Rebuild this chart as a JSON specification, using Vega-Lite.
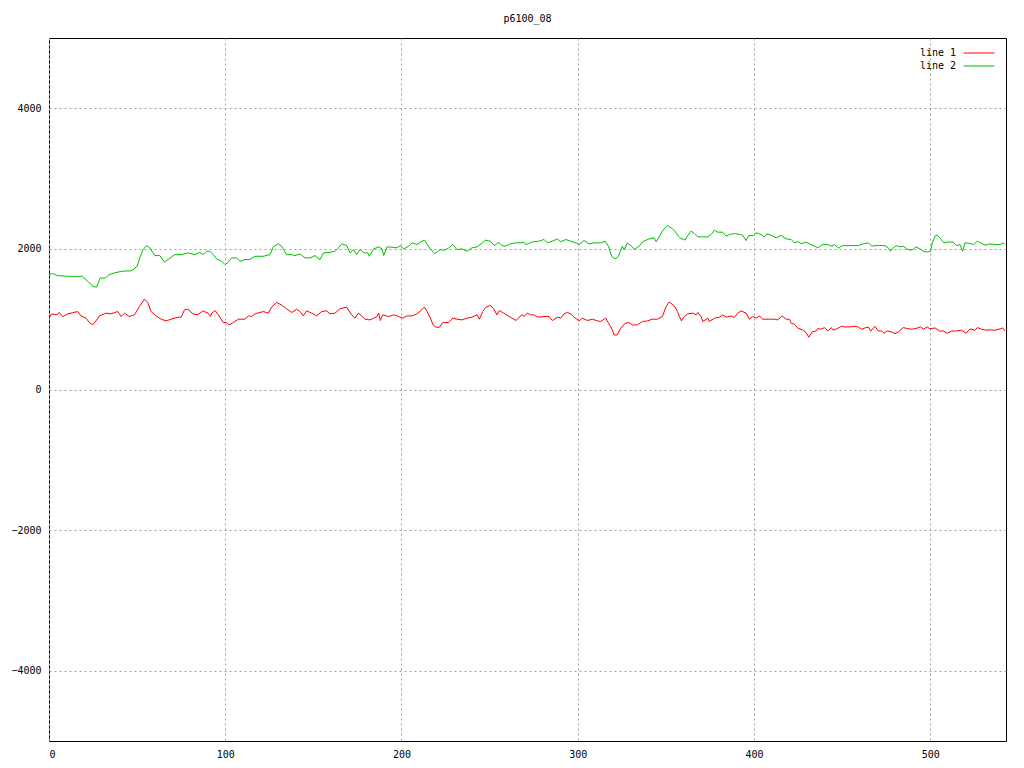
{
"$schema": "https://vega.github.io/schema/vega-lite/v6.json",
"width": 957, "height": 703,
"autosize": "none",
"padding": {"left": 49, "top": 38, "right": 18, "bottom": 27},
"background": "white",
"title": {"text": "p6100_08", "font": "DejaVu Sans Mono", "fontSize": 10, "fontWeight": "normal", "color": "black", "offset": 14},
"config": {
  "view": {"stroke": "black", "strokeWidth": 1},
  "axis": {"grid": true, "gridDash": [2, 3], "gridColor": "#a0a0a0", "gridWidth": 1, "ticks": false, "domain": false, "labelPadding": 8, "labelFont": "DejaVu Sans Mono", "labelFontSize": 10, "labelColor": "black", "title": null}
},
"datasets": {"pts": [
{"x":0,"y":1015,"s":"line 1"},{"x":1.5,"y":1076,"s":"line 1"},{"x":4,"y":1062,"s":"line 1"},{"x":5.9,"y":1095,"s":"line 1"},{"x":7.8,"y":1038,"s":"line 1"},{"x":10.7,"y":1076,"s":"line 1"},{"x":16.3,"y":1109,"s":"line 1"},{"x":18.2,"y":1047,"s":"line 1"},{"x":21,"y":1015,"s":"line 1"},{"x":22.9,"y":952,"s":"line 1"},{"x":24.8,"y":919,"s":"line 1"},{"x":26.7,"y":976,"s":"line 1"},{"x":28.6,"y":1047,"s":"line 1"},{"x":32.4,"y":1086,"s":"line 1"},{"x":35.2,"y":1076,"s":"line 1"},{"x":39,"y":1109,"s":"line 1"},{"x":40.9,"y":1038,"s":"line 1"},{"x":42.8,"y":1086,"s":"line 1"},{"x":45.6,"y":1038,"s":"line 1"},{"x":48.5,"y":1062,"s":"line 1"},{"x":51.3,"y":1181,"s":"line 1"},{"x":54.2,"y":1286,"s":"line 1"},{"x":56,"y":1238,"s":"line 1"},{"x":57.9,"y":1109,"s":"line 1"},{"x":60.8,"y":1047,"s":"line 1"},{"x":63.6,"y":1000,"s":"line 1"},{"x":66.4,"y":976,"s":"line 1"},{"x":69.3,"y":1000,"s":"line 1"},{"x":73.1,"y":1029,"s":"line 1"},{"x":75,"y":1029,"s":"line 1"},{"x":76.9,"y":1133,"s":"line 1"},{"x":78.8,"y":1143,"s":"line 1"},{"x":81.6,"y":1076,"s":"line 1"},{"x":84.5,"y":1062,"s":"line 1"},{"x":87.3,"y":1119,"s":"line 1"},{"x":90.2,"y":1086,"s":"line 1"},{"x":91.7,"y":1038,"s":"line 1"},{"x":92.3,"y":1086,"s":"line 1"},{"x":94.2,"y":1124,"s":"line 1"},{"x":96.1,"y":1062,"s":"line 1"},{"x":98.9,"y":952,"s":"line 1"},{"x":100.8,"y":952,"s":"line 1"},{"x":102.1,"y":919,"s":"line 1"},{"x":104.6,"y":952,"s":"line 1"},{"x":107.4,"y":1000,"s":"line 1"},{"x":111.2,"y":1000,"s":"line 1"},{"x":113.1,"y":1047,"s":"line 1"},{"x":115,"y":1038,"s":"line 1"},{"x":116.9,"y":1076,"s":"line 1"},{"x":121.6,"y":1109,"s":"line 1"},{"x":124.4,"y":1086,"s":"line 1"},{"x":126.3,"y":1171,"s":"line 1"},{"x":129.2,"y":1238,"s":"line 1"},{"x":132,"y":1200,"s":"line 1"},{"x":134.8,"y":1148,"s":"line 1"},{"x":137.7,"y":1095,"s":"line 1"},{"x":140.5,"y":1143,"s":"line 1"},{"x":142.4,"y":1109,"s":"line 1"},{"x":144.3,"y":1047,"s":"line 1"},{"x":146.2,"y":1119,"s":"line 1"},{"x":149,"y":1086,"s":"line 1"},{"x":151.9,"y":1047,"s":"line 1"},{"x":154.7,"y":1109,"s":"line 1"},{"x":157.5,"y":1119,"s":"line 1"},{"x":159.4,"y":1076,"s":"line 1"},{"x":162.3,"y":1086,"s":"line 1"},{"x":165.1,"y":1148,"s":"line 1"},{"x":168.9,"y":1171,"s":"line 1"},{"x":171.7,"y":1062,"s":"line 1"},{"x":173.6,"y":1015,"s":"line 1"},{"x":175.5,"y":1086,"s":"line 1"},{"x":177.4,"y":1047,"s":"line 1"},{"x":179.3,"y":1000,"s":"line 1"},{"x":182.1,"y":990,"s":"line 1"},{"x":184.2,"y":1015,"s":"line 1"},{"x":186.1,"y":1038,"s":"line 1"},{"x":187.1,"y":1086,"s":"line 1"},{"x":188,"y":981,"s":"line 1"},{"x":189.3,"y":1062,"s":"line 1"},{"x":192.7,"y":1038,"s":"line 1"},{"x":195.6,"y":1062,"s":"line 1"},{"x":198.4,"y":1038,"s":"line 1"},{"x":200.7,"y":1015,"s":"line 1"},{"x":203.1,"y":1047,"s":"line 1"},{"x":206,"y":1047,"s":"line 1"},{"x":208.8,"y":1076,"s":"line 1"},{"x":210.7,"y":1119,"s":"line 1"},{"x":213,"y":1171,"s":"line 1"},{"x":214.5,"y":1109,"s":"line 1"},{"x":216.4,"y":1015,"s":"line 1"},{"x":217.9,"y":919,"s":"line 1"},{"x":219.6,"y":886,"s":"line 1"},{"x":221.5,"y":886,"s":"line 1"},{"x":223.4,"y":952,"s":"line 1"},{"x":226.8,"y":952,"s":"line 1"},{"x":229.1,"y":1015,"s":"line 1"},{"x":231.5,"y":1000,"s":"line 1"},{"x":234.4,"y":990,"s":"line 1"},{"x":237.2,"y":1015,"s":"line 1"},{"x":240,"y":1029,"s":"line 1"},{"x":242.9,"y":1062,"s":"line 1"},{"x":244.2,"y":1000,"s":"line 1"},{"x":246.1,"y":1109,"s":"line 1"},{"x":248,"y":1171,"s":"line 1"},{"x":250.4,"y":1195,"s":"line 1"},{"x":252.3,"y":1148,"s":"line 1"},{"x":254.2,"y":1062,"s":"line 1"},{"x":255.5,"y":1124,"s":"line 1"},{"x":258,"y":1086,"s":"line 1"},{"x":260.5,"y":1047,"s":"line 1"},{"x":262.7,"y":1015,"s":"line 1"},{"x":265,"y":981,"s":"line 1"},{"x":267.5,"y":1047,"s":"line 1"},{"x":268.6,"y":1062,"s":"line 1"},{"x":269.4,"y":1038,"s":"line 1"},{"x":271.4,"y":1086,"s":"line 1"},{"x":273.3,"y":1062,"s":"line 1"},{"x":275.2,"y":1062,"s":"line 1"},{"x":277.1,"y":1029,"s":"line 1"},{"x":280.9,"y":1038,"s":"line 1"},{"x":283.7,"y":1038,"s":"line 1"},{"x":285.6,"y":981,"s":"line 1"},{"x":288.5,"y":1029,"s":"line 1"},{"x":290.3,"y":1015,"s":"line 1"},{"x":292.2,"y":1076,"s":"line 1"},{"x":294.1,"y":1095,"s":"line 1"},{"x":296,"y":1076,"s":"line 1"},{"x":297.9,"y":1029,"s":"line 1"},{"x":300.8,"y":976,"s":"line 1"},{"x":302.6,"y":1015,"s":"line 1"},{"x":305.5,"y":981,"s":"line 1"},{"x":308.3,"y":1000,"s":"line 1"},{"x":311.2,"y":976,"s":"line 1"},{"x":313,"y":967,"s":"line 1"},{"x":315.9,"y":1015,"s":"line 1"},{"x":317.8,"y":929,"s":"line 1"},{"x":319.7,"y":848,"s":"line 1"},{"x":320.6,"y":776,"s":"line 1"},{"x":322.5,"y":776,"s":"line 1"},{"x":324.4,"y":871,"s":"line 1"},{"x":326.9,"y":943,"s":"line 1"},{"x":329.1,"y":952,"s":"line 1"},{"x":331,"y":919,"s":"line 1"},{"x":333.9,"y":919,"s":"line 1"},{"x":336.7,"y":967,"s":"line 1"},{"x":339.5,"y":976,"s":"line 1"},{"x":342.4,"y":1000,"s":"line 1"},{"x":345.2,"y":1000,"s":"line 1"},{"x":348,"y":1038,"s":"line 1"},{"x":350,"y":1171,"s":"line 1"},{"x":351.8,"y":1243,"s":"line 1"},{"x":354.1,"y":1205,"s":"line 1"},{"x":355.8,"y":1148,"s":"line 1"},{"x":356.6,"y":1109,"s":"line 1"},{"x":357.7,"y":1038,"s":"line 1"},{"x":358.8,"y":976,"s":"line 1"},{"x":360.5,"y":1038,"s":"line 1"},{"x":362.4,"y":1076,"s":"line 1"},{"x":365.3,"y":1086,"s":"line 1"},{"x":367.2,"y":1062,"s":"line 1"},{"x":368.1,"y":1095,"s":"line 1"},{"x":370,"y":1038,"s":"line 1"},{"x":371,"y":967,"s":"line 1"},{"x":373.8,"y":1015,"s":"line 1"},{"x":374.7,"y":967,"s":"line 1"},{"x":377.6,"y":1015,"s":"line 1"},{"x":380.4,"y":1029,"s":"line 1"},{"x":382.3,"y":1062,"s":"line 1"},{"x":384.2,"y":1029,"s":"line 1"},{"x":387,"y":1047,"s":"line 1"},{"x":388.9,"y":1024,"s":"line 1"},{"x":390.8,"y":1086,"s":"line 1"},{"x":392.7,"y":1119,"s":"line 1"},{"x":395.5,"y":1086,"s":"line 1"},{"x":397.4,"y":1000,"s":"line 1"},{"x":399.3,"y":1038,"s":"line 1"},{"x":401.2,"y":1015,"s":"line 1"},{"x":403.1,"y":1047,"s":"line 1"},{"x":405,"y":1000,"s":"line 1"},{"x":408.8,"y":1000,"s":"line 1"},{"x":411.6,"y":1000,"s":"line 1"},{"x":413.5,"y":990,"s":"line 1"},{"x":416,"y":1047,"s":"line 1"},{"x":418.2,"y":1000,"s":"line 1"},{"x":420.1,"y":1000,"s":"line 1"},{"x":421.1,"y":943,"s":"line 1"},{"x":423,"y":929,"s":"line 1"},{"x":424.9,"y":871,"s":"line 1"},{"x":427.7,"y":847,"s":"line 1"},{"x":429.6,"y":810,"s":"line 1"},{"x":431.1,"y":743,"s":"line 1"},{"x":433,"y":819,"s":"line 1"},{"x":435.2,"y":833,"s":"line 1"},{"x":436.2,"y":867,"s":"line 1"},{"x":438.1,"y":857,"s":"line 1"},{"x":440,"y":881,"s":"line 1"},{"x":441.9,"y":833,"s":"line 1"},{"x":443.8,"y":881,"s":"line 1"},{"x":445,"y":843,"s":"line 1"},{"x":446.9,"y":862,"s":"line 1"},{"x":449.7,"y":900,"s":"line 1"},{"x":451.6,"y":890,"s":"line 1"},{"x":454.5,"y":890,"s":"line 1"},{"x":456.7,"y":900,"s":"line 1"},{"x":459.2,"y":890,"s":"line 1"},{"x":461.1,"y":857,"s":"line 1"},{"x":463,"y":876,"s":"line 1"},{"x":464.9,"y":890,"s":"line 1"},{"x":466.2,"y":829,"s":"line 1"},{"x":468.6,"y":900,"s":"line 1"},{"x":470.5,"y":833,"s":"line 1"},{"x":472.4,"y":833,"s":"line 1"},{"x":473.8,"y":800,"s":"line 1"},{"x":475.6,"y":833,"s":"line 1"},{"x":478.1,"y":819,"s":"line 1"},{"x":480,"y":795,"s":"line 1"},{"x":481.9,"y":819,"s":"line 1"},{"x":484.7,"y":881,"s":"line 1"},{"x":487,"y":867,"s":"line 1"},{"x":489.5,"y":857,"s":"line 1"},{"x":492.3,"y":871,"s":"line 1"},{"x":494.6,"y":890,"s":"line 1"},{"x":496.1,"y":857,"s":"line 1"},{"x":498.3,"y":890,"s":"line 1"},{"x":499.9,"y":862,"s":"line 1"},{"x":502.7,"y":876,"s":"line 1"},{"x":505.5,"y":829,"s":"line 1"},{"x":507.4,"y":833,"s":"line 1"},{"x":509.7,"y":800,"s":"line 1"},{"x":512.2,"y":833,"s":"line 1"},{"x":515,"y":833,"s":"line 1"},{"x":517.8,"y":843,"s":"line 1"},{"x":520.3,"y":800,"s":"line 1"},{"x":522.6,"y":862,"s":"line 1"},{"x":525.4,"y":843,"s":"line 1"},{"x":526.7,"y":881,"s":"line 1"},{"x":529.2,"y":857,"s":"line 1"},{"x":532,"y":843,"s":"line 1"},{"x":533.9,"y":848,"s":"line 1"},{"x":536.8,"y":843,"s":"line 1"},{"x":539.6,"y":862,"s":"line 1"},{"x":541.1,"y":876,"s":"line 1"},{"x":542.4,"y":833,"s":"line 1"},
{"x":0,"y":1633,"s":"line 2"},{"x":2,"y":1650,"s":"line 2"},{"x":5,"y":1619,"s":"line 2"},{"x":11,"y":1610,"s":"line 2"},{"x":15,"y":1610,"s":"line 2"},{"x":19,"y":1610,"s":"line 2"},{"x":22,"y":1538,"s":"line 2"},{"x":25,"y":1466,"s":"line 2"},{"x":27,"y":1457,"s":"line 2"},{"x":29,"y":1586,"s":"line 2"},{"x":32,"y":1586,"s":"line 2"},{"x":34,"y":1633,"s":"line 2"},{"x":37,"y":1657,"s":"line 2"},{"x":41,"y":1681,"s":"line 2"},{"x":47,"y":1690,"s":"line 2"},{"x":50,"y":1752,"s":"line 2"},{"x":51.5,"y":1872,"s":"line 2"},{"x":53.4,"y":1990,"s":"line 2"},{"x":55.3,"y":2047,"s":"line 2"},{"x":57.2,"y":2016,"s":"line 2"},{"x":60,"y":1905,"s":"line 2"},{"x":62.9,"y":1905,"s":"line 2"},{"x":65.4,"y":1814,"s":"line 2"},{"x":67.6,"y":1848,"s":"line 2"},{"x":71.4,"y":1919,"s":"line 2"},{"x":75.2,"y":1919,"s":"line 2"},{"x":79,"y":1943,"s":"line 2"},{"x":82.8,"y":1919,"s":"line 2"},{"x":85.6,"y":1952,"s":"line 2"},{"x":87.5,"y":1919,"s":"line 2"},{"x":89.4,"y":1966,"s":"line 2"},{"x":91.3,"y":1966,"s":"line 2"},{"x":93.2,"y":1919,"s":"line 2"},{"x":95.1,"y":1857,"s":"line 2"},{"x":98,"y":1824,"s":"line 2"},{"x":99.9,"y":1776,"s":"line 2"},{"x":101.7,"y":1810,"s":"line 2"},{"x":103.6,"y":1872,"s":"line 2"},{"x":106.5,"y":1872,"s":"line 2"},{"x":108.4,"y":1824,"s":"line 2"},{"x":111.2,"y":1848,"s":"line 2"},{"x":114,"y":1848,"s":"line 2"},{"x":116.9,"y":1895,"s":"line 2"},{"x":121.6,"y":1895,"s":"line 2"},{"x":125.4,"y":1919,"s":"line 2"},{"x":127.3,"y":2029,"s":"line 2"},{"x":130.1,"y":2072,"s":"line 2"},{"x":132,"y":2038,"s":"line 2"},{"x":134.8,"y":1919,"s":"line 2"},{"x":137.7,"y":1919,"s":"line 2"},{"x":139.6,"y":1905,"s":"line 2"},{"x":142.4,"y":1929,"s":"line 2"},{"x":145.3,"y":1872,"s":"line 2"},{"x":148.1,"y":1872,"s":"line 2"},{"x":150.9,"y":1905,"s":"line 2"},{"x":153.8,"y":1848,"s":"line 2"},{"x":155.7,"y":1943,"s":"line 2"},{"x":159.4,"y":1952,"s":"line 2"},{"x":162.3,"y":1966,"s":"line 2"},{"x":164.2,"y":2015,"s":"line 2"},{"x":166.1,"y":2072,"s":"line 2"},{"x":168.9,"y":2047,"s":"line 2"},{"x":170.8,"y":1943,"s":"line 2"},{"x":172.7,"y":1990,"s":"line 2"},{"x":174.6,"y":1919,"s":"line 2"},{"x":176.5,"y":1990,"s":"line 2"},{"x":178.9,"y":1943,"s":"line 2"},{"x":180.8,"y":1943,"s":"line 2"},{"x":181.8,"y":1895,"s":"line 2"},{"x":184.2,"y":2000,"s":"line 2"},{"x":187.1,"y":2029,"s":"line 2"},{"x":189,"y":2000,"s":"line 2"},{"x":189.9,"y":1905,"s":"line 2"},{"x":191.8,"y":2029,"s":"line 2"},{"x":194.6,"y":2024,"s":"line 2"},{"x":197.5,"y":2015,"s":"line 2"},{"x":199.4,"y":2047,"s":"line 2"},{"x":201.2,"y":2000,"s":"line 2"},{"x":204.1,"y":2038,"s":"line 2"},{"x":206,"y":2086,"s":"line 2"},{"x":208.8,"y":2062,"s":"line 2"},{"x":211.7,"y":2110,"s":"line 2"},{"x":213.2,"y":2124,"s":"line 2"},{"x":215.4,"y":2029,"s":"line 2"},{"x":218.8,"y":1933,"s":"line 2"},{"x":222.1,"y":1990,"s":"line 2"},{"x":224.5,"y":1981,"s":"line 2"},{"x":226.8,"y":2015,"s":"line 2"},{"x":229.1,"y":2062,"s":"line 2"},{"x":231.5,"y":1990,"s":"line 2"},{"x":234.4,"y":2000,"s":"line 2"},{"x":237.2,"y":1966,"s":"line 2"},{"x":240,"y":2015,"s":"line 2"},{"x":242.9,"y":2029,"s":"line 2"},{"x":245.3,"y":2072,"s":"line 2"},{"x":247.6,"y":2124,"s":"line 2"},{"x":250.4,"y":2110,"s":"line 2"},{"x":252.7,"y":2047,"s":"line 2"},{"x":255.2,"y":2095,"s":"line 2"},{"x":257,"y":2047,"s":"line 2"},{"x":258.9,"y":2038,"s":"line 2"},{"x":261.8,"y":2072,"s":"line 2"},{"x":264.6,"y":2086,"s":"line 2"},{"x":267.5,"y":2086,"s":"line 2"},{"x":269.5,"y":2095,"s":"line 2"},{"x":270.5,"y":2062,"s":"line 2"},{"x":274.3,"y":2100,"s":"line 2"},{"x":278,"y":2110,"s":"line 2"},{"x":280.9,"y":2134,"s":"line 2"},{"x":282.8,"y":2086,"s":"line 2"},{"x":285.6,"y":2110,"s":"line 2"},{"x":288.5,"y":2143,"s":"line 2"},{"x":290.3,"y":2100,"s":"line 2"},{"x":293.2,"y":2134,"s":"line 2"},{"x":296,"y":2110,"s":"line 2"},{"x":298.9,"y":2086,"s":"line 2"},{"x":300.8,"y":2062,"s":"line 2"},{"x":303.6,"y":2119,"s":"line 2"},{"x":306.4,"y":2072,"s":"line 2"},{"x":309.3,"y":2086,"s":"line 2"},{"x":313,"y":2086,"s":"line 2"},{"x":315.5,"y":2110,"s":"line 2"},{"x":317.4,"y":2038,"s":"line 2"},{"x":319.3,"y":1895,"s":"line 2"},{"x":321.2,"y":1857,"s":"line 2"},{"x":323.1,"y":1895,"s":"line 2"},{"x":325.3,"y":2038,"s":"line 2"},{"x":326.3,"y":1990,"s":"line 2"},{"x":328.2,"y":2086,"s":"line 2"},{"x":331,"y":2029,"s":"line 2"},{"x":332,"y":1990,"s":"line 2"},{"x":334.8,"y":2038,"s":"line 2"},{"x":336.7,"y":2100,"s":"line 2"},{"x":340.5,"y":2143,"s":"line 2"},{"x":343.3,"y":2157,"s":"line 2"},{"x":344.6,"y":2100,"s":"line 2"},{"x":346.2,"y":2171,"s":"line 2"},{"x":348.4,"y":2267,"s":"line 2"},{"x":350.9,"y":2334,"s":"line 2"},{"x":353.7,"y":2286,"s":"line 2"},{"x":355.2,"y":2253,"s":"line 2"},{"x":357.1,"y":2181,"s":"line 2"},{"x":358.5,"y":2148,"s":"line 2"},{"x":360.3,"y":2134,"s":"line 2"},{"x":360.9,"y":2124,"s":"line 2"},{"x":362.4,"y":2190,"s":"line 2"},{"x":364.3,"y":2253,"s":"line 2"},{"x":366.2,"y":2219,"s":"line 2"},{"x":368.1,"y":2171,"s":"line 2"},{"x":371,"y":2171,"s":"line 2"},{"x":373.8,"y":2171,"s":"line 2"},{"x":375.7,"y":2205,"s":"line 2"},{"x":377.6,"y":2267,"s":"line 2"},{"x":379.4,"y":2238,"s":"line 2"},{"x":382.3,"y":2238,"s":"line 2"},{"x":384.2,"y":2181,"s":"line 2"},{"x":386.1,"y":2205,"s":"line 2"},{"x":388.9,"y":2219,"s":"line 2"},{"x":391.7,"y":2205,"s":"line 2"},{"x":393.6,"y":2195,"s":"line 2"},{"x":395.5,"y":2119,"s":"line 2"},{"x":397,"y":2190,"s":"line 2"},{"x":399.7,"y":2190,"s":"line 2"},{"x":401.2,"y":2229,"s":"line 2"},{"x":404,"y":2205,"s":"line 2"},{"x":405.9,"y":2167,"s":"line 2"},{"x":407.3,"y":2214,"s":"line 2"},{"x":409.7,"y":2195,"s":"line 2"},{"x":412.6,"y":2157,"s":"line 2"},{"x":415.4,"y":2195,"s":"line 2"},{"x":418.2,"y":2143,"s":"line 2"},{"x":421.1,"y":2134,"s":"line 2"},{"x":423,"y":2086,"s":"line 2"},{"x":424.9,"y":2105,"s":"line 2"},{"x":426.7,"y":2076,"s":"line 2"},{"x":429.6,"y":2095,"s":"line 2"},{"x":431.5,"y":2072,"s":"line 2"},{"x":434.3,"y":2038,"s":"line 2"},{"x":436.2,"y":2015,"s":"line 2"},{"x":439,"y":2062,"s":"line 2"},{"x":441.9,"y":2062,"s":"line 2"},{"x":443.8,"y":2038,"s":"line 2"},{"x":445.7,"y":2062,"s":"line 2"},{"x":447.9,"y":2010,"s":"line 2"},{"x":449.4,"y":2038,"s":"line 2"},{"x":450.7,"y":2047,"s":"line 2"},{"x":454.5,"y":2047,"s":"line 2"},{"x":459.2,"y":2047,"s":"line 2"},{"x":462,"y":2072,"s":"line 2"},{"x":464.9,"y":2086,"s":"line 2"},{"x":466.8,"y":2038,"s":"line 2"},{"x":468.6,"y":2047,"s":"line 2"},{"x":471.5,"y":2047,"s":"line 2"},{"x":474.3,"y":2047,"s":"line 2"},{"x":476.2,"y":2015,"s":"line 2"},{"x":477.5,"y":1966,"s":"line 2"},{"x":479,"y":2015,"s":"line 2"},{"x":480.9,"y":2047,"s":"line 2"},{"x":482.8,"y":2029,"s":"line 2"},{"x":484.7,"y":2038,"s":"line 2"},{"x":486.6,"y":2000,"s":"line 2"},{"x":489.5,"y":1981,"s":"line 2"},{"x":491.9,"y":2029,"s":"line 2"},{"x":494.2,"y":2000,"s":"line 2"},{"x":496.1,"y":1966,"s":"line 2"},{"x":498.3,"y":1957,"s":"line 2"},{"x":500.2,"y":1966,"s":"line 2"},{"x":501.2,"y":2086,"s":"line 2"},{"x":502.7,"y":2181,"s":"line 2"},{"x":504,"y":2195,"s":"line 2"},{"x":505.9,"y":2143,"s":"line 2"},{"x":507.8,"y":2086,"s":"line 2"},{"x":510.3,"y":2100,"s":"line 2"},{"x":513.1,"y":2095,"s":"line 2"},{"x":515,"y":2047,"s":"line 2"},{"x":516.9,"y":2062,"s":"line 2"},{"x":518.4,"y":1966,"s":"line 2"},{"x":519.7,"y":2086,"s":"line 2"},{"x":522.6,"y":2076,"s":"line 2"},{"x":524.5,"y":2062,"s":"line 2"},{"x":526.7,"y":2110,"s":"line 2"},{"x":529.2,"y":2076,"s":"line 2"},{"x":531.6,"y":2052,"s":"line 2"},{"x":533.9,"y":2072,"s":"line 2"},{"x":536.8,"y":2062,"s":"line 2"},{"x":539.6,"y":2062,"s":"line 2"},{"x":541.5,"y":2086,"s":"line 2"},{"x":542.4,"y":2062,"s":"line 2"}
]},
"data": {"name": "pts"},
"mark": {"type": "line", "strokeWidth": 1, "clip": true},
"encoding": {
  "x": {"field": "x", "type": "quantitative", "scale": {"domain": [0, 543], "nice": false, "zero": false}, "axis": {"values": [0, 100, 200, 300, 400, 500], "format": "d"}},
  "y": {"field": "y", "type": "quantitative", "scale": {"domain": [-5000, 5000], "nice": false}, "axis": {"values": [-4000, -2000, 0, 2000, 4000], "format": "d"}},
  "color": {"field": "s", "type": "nominal", "scale": {"domain": ["line 1", "line 2"], "range": ["#ff0000", "#00c000"]},
    "legend": {"title": null, "orient": "none", "legendX": 924, "legendY": 9, "symbolType": "M-3,0H3", "symbolSize": 107, "symbolStrokeWidth": 1, "symbolFillColor": "transparent", "labelFont": "DejaVu Sans Mono", "labelFontSize": 10, "labelColor": "black", "labelAlign": "right", "labelOffset": -29, "rowPadding": 2}}
}
}
